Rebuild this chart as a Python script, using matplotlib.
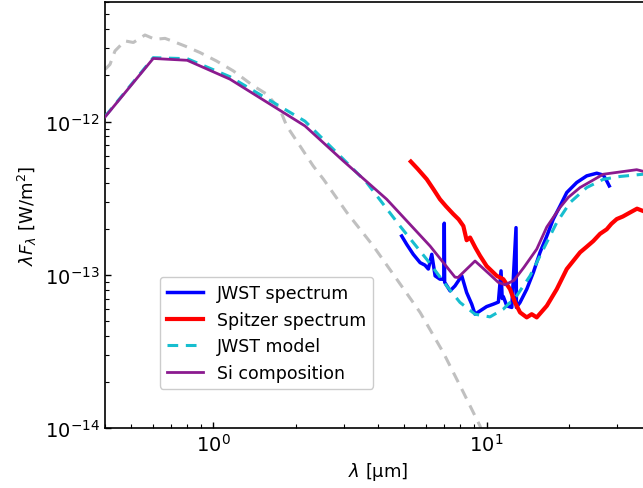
import matplotlib
matplotlib.use("Agg")
import matplotlib.pyplot as plt

# ---- data ----
# stellar photosphere (grey dashed)
star_wl = [0.402, 0.419, 0.437, 0.475, 0.510, 0.5625, 0.612, 0.666, 0.705, 0.788, 0.894,
           1.029, 1.184, 1.401, 1.568, 1.754, 1.856, 2.076, 2.32, 2.53, 3.08, 3.85, 4.69,
           5.71, 6.94, 8.22, 9.46, 10.3]
star_fl = [2.19e-12, 2.36e-12, 2.89e-12, 3.36e-12, 3.28e-12, 3.67e-12, 3.44e-12, 3.49e-12,
           3.36e-12, 3.11e-12, 2.82e-12, 2.48e-12, 2.14e-12, 1.71e-12, 1.51e-12, 1.20e-12,
           9.36e-13, 6.93e-13, 5.13e-13, 4.2e-13, 2.55e-13, 1.54e-13, 9.36e-14, 5.68e-14,
           3.11e-14, 1.71e-14, 1.03e-14, 6.5e-15]

# JWST model (cyan dashed)
model_wl = [0.402, 0.603, 0.803, 1.151, 2.165, 2.99, 3.64, 4.82, 6.04, 7.14, 7.99, 9.07,
            10.29, 11.51, 12.88, 14.42, 16.13, 18.05, 20.19, 23.24, 26.73, 30.77, 37.3, 40.0]
model_fl = [1.08e-12, 2.61e-12, 2.57e-12, 1.96e-12, 1.005e-12, 5.68e-13, 4.0e-13, 2.08e-13,
            1.26e-13, 8.47e-14, 6.6e-14, 5.53e-14, 5.31e-14, 5.97e-14, 7.28e-14, 9.84e-14,
            1.47e-13, 2.19e-13, 2.96e-13, 3.71e-13, 4.2e-13, 4.38e-13, 4.53e-13, 4.55e-13]

# Si composition (purple)
si_wl = [0.402, 0.603, 0.803, 1.151, 2.165, 2.99, 4.31, 6.21, 7.66, 7.86, 9.07, 10.3,
         11.04, 11.68, 12.6, 13.7, 15.25, 16.6, 18.56, 19.9, 21.97, 26.73, 35.4, 37.3, 40.0]
si_fl = [1.072e-12, 2.58e-12, 2.51e-12, 1.89e-12, 9.36e-13, 5.53e-13, 3.11e-13, 1.54e-13,
         9.65e-14, 9.6e-14, 1.23e-13, 1.0e-13, 8.91e-14, 8.6e-14, 9.2e-14, 1.12e-13,
         1.47e-13, 2.05e-13, 2.75e-13, 3.2e-13, 3.71e-13, 4.53e-13, 4.85e-13, 4.74e-13,
         4.6e-13]

# Spitzer spectrum (red)
spz_wl = [5.28, 5.6, 6.04, 6.4, 6.75, 7.1, 7.55, 7.9, 8.22, 8.45, 8.70, 9.1, 9.46, 10.0,
          10.89, 11.51, 12.18, 12.7, 13.25, 14.02, 14.62, 15.25, 16.6, 18.05, 19.64, 21.97,
          23.2, 24.56, 26.0, 27.5, 28.6, 29.93, 31.5, 33.48, 35.5, 37.3]
spz_fl = [5.48e-13, 4.9e-13, 4.2e-13, 3.6e-13, 3.11e-13, 2.8e-13, 2.49e-13, 2.3e-13,
          2.08e-13, 1.68e-13, 1.75e-13, 1.5e-13, 1.33e-13, 1.14e-13, 9.84e-14, 9.36e-14,
          8.05e-14, 6.6e-14, 5.68e-14, 5.27e-14, 5.53e-14, 5.27e-14, 6.27e-14, 8.05e-14,
          1.09e-13, 1.40e-13, 1.52e-13, 1.66e-13, 1.85e-13, 1.98e-13, 2.15e-13, 2.31e-13,
          2.4e-13, 2.55e-13, 2.7e-13, 2.61e-13]

# JWST spectrum (blue)
jw_wl = [4.89, 5.10, 5.39, 5.71, 5.95, 6.12, 6.30, 6.48, 6.75, 6.98, 7.00, 7.02, 7.35,
         7.66, 8.11, 8.45, 8.82, 9.07, 9.46, 10.0, 10.58, 11.04, 11.29, 11.40, 11.51, 11.85,
         12.36, 12.81, 12.85, 13.25, 14.02, 14.82, 15.68, 16.6, 17.54, 18.56, 19.64, 21.36,
         23.24, 25.29, 26.73, 27.5, 28.1]
jw_fl = [1.79e-13, 1.58e-13, 1.36e-13, 1.20e-13, 1.155e-13, 1.09e-13, 1.36e-13, 9.84e-14,
         9.36e-14, 9.36e-14, 2.17e-13, 8.95e-14, 7.85e-14, 8.46e-14, 9.84e-14, 7.66e-14,
         6.43e-14, 5.53e-14, 5.81e-14, 6.2e-14, 6.43e-14, 6.63e-14, 1.06e-13, 7.0e-14,
         7.2e-14, 6.27e-14, 6.12e-14, 2.03e-13, 6.12e-14, 6.6e-14, 8.05e-14, 1.035e-13,
         1.40e-13, 1.79e-13, 2.31e-13, 2.81e-13, 3.44e-13, 4.0e-13, 4.42e-13, 4.6e-13,
         4.47e-13, 4.1e-13, 3.8e-13]

labels = ["JWST spectrum", "Spitzer spectrum", "JWST model", "Si composition"]

# ---- figure ----
fig = plt.figure(figsize=(6.43, 4.89), dpi=100)
W, H = 643.0, 489.0
left_px, right_px = 104.5, 651.2
top_px, bot_px = 3.3, 429.0
ax = fig.add_axes([left_px / W, 1 - bot_px / H, (right_px - left_px) / W, (bot_px - top_px) / H])

ax.plot(star_wl, star_fl, color="#c0c0c0", ls=(0, (3.5, 2.5)), lw=2.2, zorder=1)
l1, = ax.plot(jw_wl, jw_fl, color="blue", lw=2.5, zorder=3)
l2, = ax.plot(spz_wl, spz_fl, color="red", lw=3, zorder=4)
l3, = ax.plot(model_wl, model_fl, color="#17becf", ls=(0, (3.5, 2.5)), lw=2.2, zorder=5)
l4, = ax.plot(si_wl, si_fl, color="#8b1a8f", lw=2, zorder=6)

ax.set_xscale("log")
ax.set_yscale("log")
ax.set_xlim(0.4, 40)
ax.set_ylim(1e-14, 6e-12)

ax.tick_params(which="both", direction="in", top=False, right=False, labelsize=14)
ax.tick_params(which="major", length=4.5, width=1)
ax.tick_params(which="minor", length=3, width=0.8)
for s in ax.spines.values():
    s.set_linewidth(1.2)

ax.set_xlabel(r"$\lambda$ [µm]", fontsize=13)
ax.set_ylabel(r"$\lambda F_\lambda$ [W/m$^2$]", fontsize=13)

ax.legend([l1, l2, l3, l4], labels, loc="upper left",
          bbox_to_anchor=(160 / W, 1 - 278 / H), bbox_transform=fig.transFigure,
          borderaxespad=0, fontsize=12.5, handlelength=2.1, labelspacing=0.5,
          framealpha=1.0, edgecolor="#cccccc")

fig.savefig("out.png", dpi=100)
